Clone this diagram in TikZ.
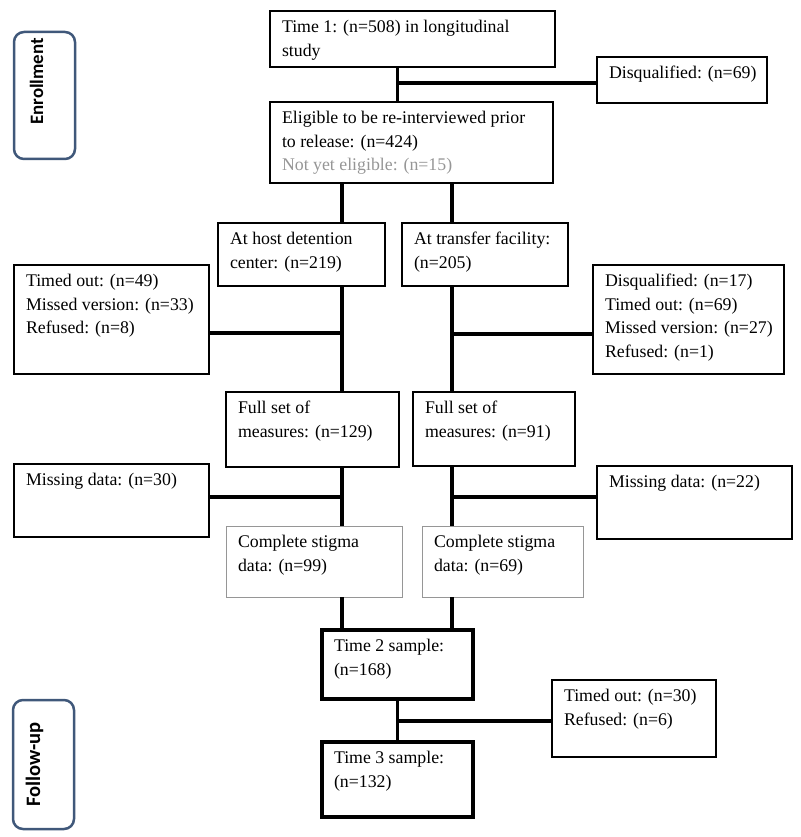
\documentclass[tikz,border=0pt]{standalone}
\usepackage{fontspec}
\setmainfont{Liberation Serif}
\newfontfamily\lblfont{Carlito}
\definecolor{lblc}{RGB}{64,88,122}
\definecolor{greytxt}{RGB}{150,150,150}
\definecolor{greybox}{RGB}{150,150,150}
\tikzset{
  boxbase/.style={draw, inner sep=0pt, outer sep=0pt},
  thinbox/.style={boxbase, line width=1.3pt},
  thickbox/.style={boxbase, line width=3.5pt},
  greyboxst/.style={boxbase, draw=greybox, line width=1pt},
  txt/.style={inner sep=0pt, outer sep=0pt, align=left, font=\fontsize{17.8}{23.5}\selectfont},
  conn/.style={line width=3.2pt},
  phase/.style={draw=lblc, line width=2.5pt, rounded corners=10pt, inner sep=0pt, outer sep=0pt},
  phasetxt/.style={inner sep=0pt, rotate=90}
}
\newcommand\mkbox[7]{%
  \node[#6, anchor=north west, minimum width={(#4-#2)*1pt}, minimum height={(#5-#3)*1pt}] (#1) at (#2,#3) {};
  \node[txt, anchor=north west] (#1t) at ([xshift=12pt, yshift=-5.5pt]#1.north west) {\strut #7};
}
\begin{document}
\begin{tikzpicture}[x=1pt, y=-1pt]
\useasboundingbox (0,0) rectangle (800,837);
% phase labels
\node[phase, anchor=north west, minimum width=61pt, minimum height=127pt] (enr) at (14,32) {};
\node[phasetxt, anchor=base, font=\lblfont\bfseries\fontsize{18.9}{20}\selectfont] (enrt) at (43,81.5) {Enrollment};
\node[phase, anchor=north west, minimum width=61pt, minimum height=129pt] (fol) at (13,700) {};
\node[phasetxt, anchor=base, font=\lblfont\bfseries\fontsize{20.5}{22}\selectfont] (folt) at (40,764.5) {Follow-up};
% boxes
\mkbox{t1}{270}{11}{555}{67}{thinbox}{Time 1: (n=508) in longitudinal\\study}
\mkbox{disq}{597}{57}{767}{103}{thinbox}{Disqualified: (n=69)}
\mkbox{elig}{270}{102}{553}{183}{thinbox}{Eligible to be re-interviewed prior\\to release: (n=424)\\\textcolor{greytxt}{Not yet eligible: (n=15)}}
\mkbox{host}{218}{223}{385}{286}{thinbox}{At host detention\\center: (n=219)}
\mkbox{trans}{402}{223}{568}{286}{thinbox}{At transfer facility:\\(n=205)}
\mkbox{dropL}{14}{265}{209}{374}{thinbox}{Timed out: (n=49)\\Missed version: (n=33)\\Refused: (n=8)}
\mkbox{dropR}{593}{265}{784}{374}{thinbox}{Disqualified: (n=17)\\Timed out: (n=69)\\Missed version: (n=27)\\Refused: (n=1)}
\mkbox{fullL}{226}{392}{399}{467}{thinbox}{Full set of\\measures: (n=129)}
\mkbox{fullR}{413}{392}{575}{466}{thinbox}{Full set of\\measures: (n=91)}
\mkbox{missL}{14}{464}{209}{537}{thinbox}{Missing data: (n=30)}
\mkbox{missR}{597}{466}{792}{539}{thinbox}{Missing data: (n=22)}
\mkbox{stigL}{226}{526}{402}{597}{greyboxst}{Complete stigma\\data: (n=99)}
\mkbox{stigR}{422}{526}{583}{597}{greyboxst}{Complete stigma\\data: (n=69)}
\mkbox{t2}{322}{630}{473}{699}{thickbox}{Time 2 sample:\\(n=168)}
\mkbox{t3}{322}{742}{473}{817}{thickbox}{Time 3 sample:\\(n=132)}
\mkbox{fu}{552}{680}{716}{757}{thinbox}{Timed out: (n=30)\\Refused: (n=6)}
% connector columns and junctions
\coordinate (cM) at (397.5,0);
\coordinate (cL) at (342,0);
\coordinate (cR) at (452,0);
\coordinate (j0) at (397.5,83);
\coordinate (j1) at (342,333);
\coordinate (j2) at (452,334);
\coordinate (j3) at (342,497);
\coordinate (j4) at (452,497);
\coordinate (j5) at (397.5,721);
\draw[conn] (t1.south -| cM) -- (elig.north -| cM);
\draw[conn] (j0) -- (disq.west |- j0);
\draw[conn] (elig.south -| cL) -- (host.north -| cL);
\draw[conn] (elig.south -| cR) -- (trans.north -| cR);
\draw[conn] (host.south -| cL) -- (fullL.north -| cL);
\draw[conn] (j1) -- (dropL.east |- j1);
\draw[conn] (trans.south -| cR) -- (fullR.north -| cR);
\draw[conn] (j2) -- (dropR.west |- j2);
\draw[conn] (fullL.south -| cL) -- (stigL.north -| cL);
\draw[conn] (j3) -- (missL.east |- j3);
\draw[conn] (fullR.south -| cR) -- (stigR.north -| cR);
\draw[conn] (j4) -- (missR.west |- j4);
\draw[conn] (stigL.south -| cL) -- (t2.north -| cL);
\draw[conn] (stigR.south -| cR) -- (t2.north -| cR);
\draw[conn] (t2.south -| cM) -- (t3.north -| cM);
\draw[conn] (j5) -- (fu.west |- j5);
\end{tikzpicture}
\end{document}
